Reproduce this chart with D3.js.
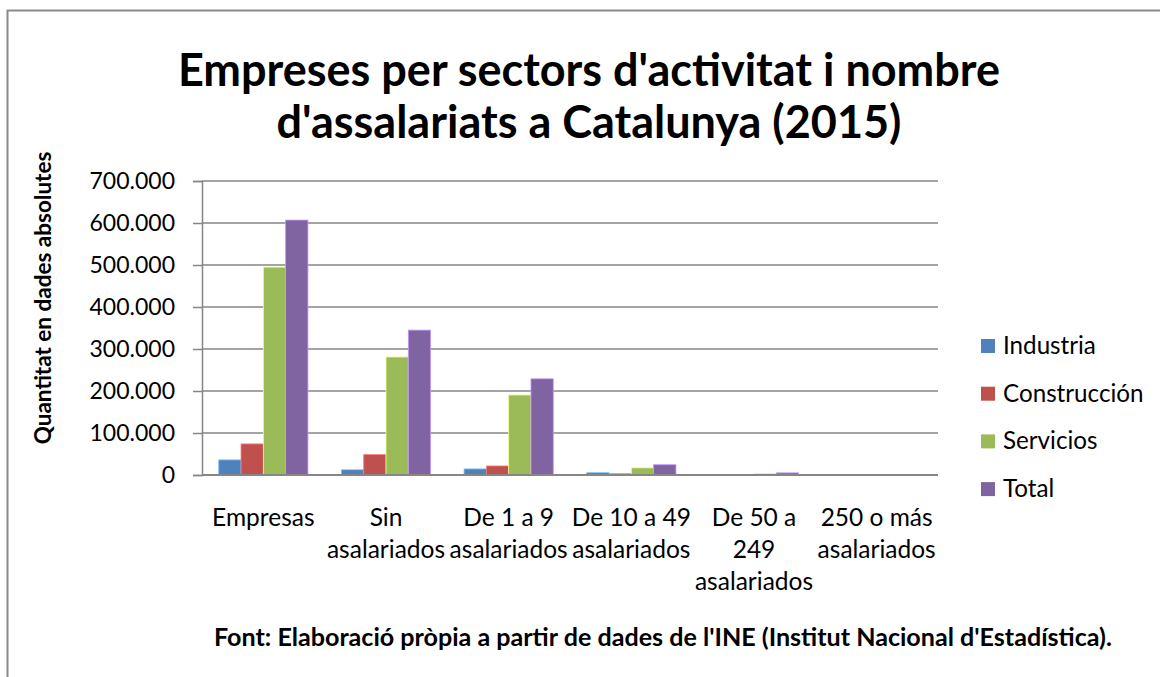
<!DOCTYPE html>
<html>
<head>
<meta charset="utf-8">
<script src="https://cdn.jsdelivr.net/npm/d3@7"></script>
<style>
    html, body { margin: 0; padding: 0; background: #fff; }
    text { font-family: Lato, "Open Sans", sans-serif; fill: #000; }
</style>
</head>
<body>
<div id="node"></div>
<script>
// Data
const categories = ["Empresas", "Sin asalariados", "De 1 a 9 asalariados", "De 10 a 49 asalariados", "De 50 a 249 asalariados", "250 o más asalariados"];
const tickLabels = [["Empresas"], ["Sin", "asalariados"], ["De 1 a 9", "asalariados"], ["De 10 a 49", "asalariados"], ["De 50 a", "249", "asalariados"], ["250 o más", "asalariados"]];
const seriesNames = ["Industria", "Construcción", "Servicios", "Total"];
const industria = [36000, 12500, 14500, 5500, 1100, 200];
const construccion = [74000, 48500, 21500, 3000, 500, 100];
const servicios = [495000, 281000, 190500, 17000, 3500, 700];
const total = [607000, 345000, 229000, 24500, 5100, 1000];
const yTicks = [0, 100000, 200000, 300000, 400000, 500000, 600000, 700000];
const colors = ["#4F81BD", "#C0504D", "#9BBB59", "#8064A2"];

const seriesValues = [industria, construccion, servicios, total];

const width = 1160, height = 677;
const margin = { top: 181, right: 222, bottom: 202, left: 202 };
const plotW = width - margin.left - margin.right;
const plotH = height - margin.top - margin.bottom;

const svg = d3.select("#node")
    .append("svg")
    .attr("width", width)
    .attr("height", height);

// outer chart frame (runs off the right and bottom edges)
svg.append("rect")
    .attr("x", 7.5).attr("y", 10.5)
    .attr("width", 1200).attr("height", 700)
    .attr("fill", "none")
    .attr("stroke", "#8a8a8a")
    .attr("stroke-width", 2);

// title
const title = svg.append("text")
    .attr("text-anchor", "middle")
    .attr("font-weight", "bold")
    .attr("font-size", 45);
title.append("tspan").attr("x", 589).attr("y", 86).text("Empreses per sectors d'activitat i nombre");
title.append("tspan").attr("x", 589).attr("y", 138).text("d'assalariats a Catalunya (2015)");

const g = svg.append("g")
    .attr("transform", "translate(" + margin.left + "," + margin.top + ")");

const x = d3.scaleBand()
    .domain(categories)
    .range([0, plotW]);

const x1 = d3.scaleBand()
    .domain(seriesNames)
    .range([0, x.bandwidth()])
    .paddingInner(0)
    .paddingOuter(0.75);

const y = d3.scaleLinear()
    .domain([0, 700000])
    .range([plotH, 0]);

const loc = d3.formatLocale({ decimal: ",", thousands: ".", grouping: [3], currency: ["", "€"] });
const fmt = loc.format(",");

// gridlines
g.append("g")
    .selectAll("line")
    .data(yTicks.slice(1))
    .enter()
    .append("line")
    .attr("x1", 0).attr("x2", plotW)
    .attr("y1", d => y(d)).attr("y2", d => y(d))
    .attr("stroke", "#868686")
    .attr("stroke-width", 1.5);

// y axis
const yAxis = g.append("g")
    .call(d3.axisLeft(y).tickValues(yTicks).tickFormat(fmt).tickSize(9).tickPadding(18));
yAxis.select(".domain").attr("stroke", "#868686").attr("stroke-width", 1.5);
yAxis.selectAll(".tick line").attr("stroke", "#868686").attr("stroke-width", 1.5);
yAxis.selectAll(".tick text")
    .attr("font-size", 23)
    .attr("font-family", "Lato, 'Open Sans', sans-serif")
    .attr("fill", "#000");

// bars
g.append("g")
    .selectAll("g")
    .data(categories)
    .enter()
    .append("g")
    .attr("transform", d => "translate(" + x(d) + ",0)")
    .selectAll("rect")
    .data((d, i) => seriesNames.map((s, j) => ({ s: s, v: seriesValues[j][i], c: colors[j] })))
    .enter()
    .append("rect")
    .attr("x", d => x1(d.s))
    .attr("width", x1.bandwidth())
    .attr("y", d => y(d.v))
    .attr("height", d => plotH - y(d.v))
    .attr("fill", d => d.c)
    .attr("stroke", d => d3.color(d.c).brighter(1.2))
    .attr("stroke-width", 0.8);

// x axis baseline
g.append("line")
    .attr("x1", 0).attr("x2", plotW)
    .attr("y1", plotH).attr("y2", plotH)
    .attr("stroke", "#868686")
    .attr("stroke-width", 2);

// x labels
const xl = g.append("g")
    .selectAll("text")
    .data(categories)
    .enter()
    .append("text")
    .attr("text-anchor", "middle")
    .attr("font-size", 24.5)
    .attr("y", plotH + 51);
xl.each(function (d, i) {
    tickLabels[i].forEach((line, k) => {
        d3.select(this).append("tspan")
            .attr("x", x(d) + x.bandwidth() / 2)
            .attr("dy", k === 0 ? 0 : 32)
            .text(line);
    });
});

// y axis title
svg.append("text")
    .attr("transform", "translate(51,298) rotate(-90)")
    .attr("text-anchor", "middle")
    .attr("font-weight", "bold")
    .attr("font-size", 22.5)
    .text("Quantitat en dades absolutes");

// legend
const legend = svg.append("g")
    .attr("transform", "translate(981,339)");
const li = legend.selectAll("g")
    .data(seriesNames)
    .enter()
    .append("g")
    .attr("transform", (d, i) => "translate(0," + (i * 47.7) + ")");
li.append("rect")
    .attr("width", 14).attr("height", 14)
    .attr("fill", (d, i) => colors[i]);
li.append("text")
    .attr("x", 22).attr("y", 15)
    .attr("font-size", 24.2)
    .text(d => d);

// source note
svg.append("text")
    .attr("x", 663).attr("y", 646)
    .attr("text-anchor", "middle")
    .attr("font-weight", "bold")
    .attr("font-size", 25.1)
    .text("Font: Elaboració pròpia a partir de dades de l'INE (Institut Nacional d'Estadística).");
</script>
</body>
</html>
